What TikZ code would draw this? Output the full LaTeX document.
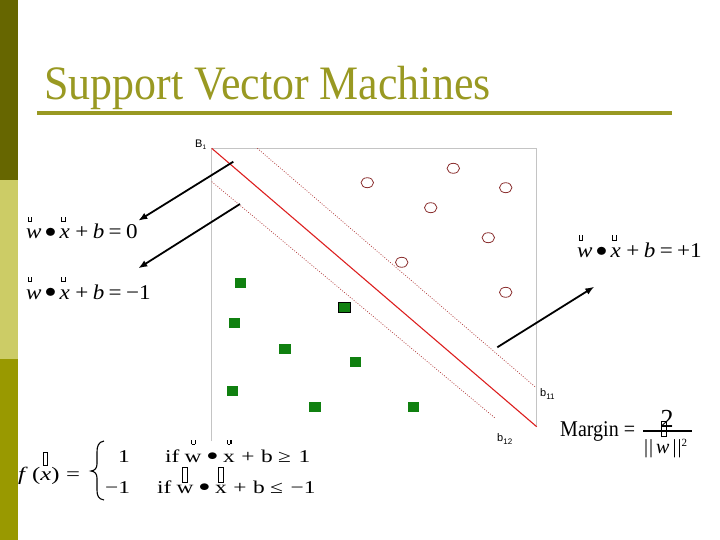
\documentclass[tikz,border=0pt]{standalone}
\usepackage{fontspec}
\setmainfont{Liberation Serif}
\newfontfamily\lsans{Liberation Sans}
\usetikzlibrary{arrows.meta,shapes.geometric}
\definecolor{barA}{HTML}{666600}
\definecolor{barB}{HTML}{CCCC66}
\definecolor{barC}{HTML}{999900}
\definecolor{titleol}{HTML}{999922}
\definecolor{redline}{HTML}{DD2020}
\definecolor{dotred}{HTML}{B03A3A}
\definecolor{circred}{HTML}{8B3030}
\definecolor{sqgreen}{HTML}{108010}
\definecolor{boxgray}{HTML}{C4C4C4}
\newcommand\umk{\rule{0.045em}{0.26em}\rule{0.12em}{0.045em}\rule{0.045em}{0.26em}}
\newcommand\uvec[2][0.8em]{\ooalign{#2\cr\kern0.06em\raisebox{#1}{\umk}\hfil\cr}}
\newcommand\uvecc[2][0.86em]{\ooalign{#2\cr\hfil\raisebox{#1}{\umk}\hfil\cr}}
\newcommand\tofu[1]{\begingroup\setlength\fboxsep{0pt}\setlength\fboxrule{0.04em}\fbox{\rule{0pt}{#1}\hspace{0.16em}}\endgroup}
\newcommand\tvec[3][0.6em]{\ooalign{#3\cr\hfil\raisebox{#1}{\tofu{#2}}\hfil\cr}}
\newcommand\bul{\raisebox{0.06em}{$\bullet$}}
\newcommand\wide[1]{\scalebox{1.3}[1]{#1}}
\newcommand\wideb[1]{\scalebox{1.1}[1]{#1}}
\tikzset{
  eqtext/.style={anchor=base west, inner sep=0pt, font=\fontsize{21}{24}\selectfont},
  rowtext/.style={anchor=base west, inner sep=0pt, font=\fontsize{18}{21}\selectfont},
  fxtext/.style={anchor=base west, inner sep=0pt, font=\fontsize{19}{22}\selectfont},
  lbl/.style={anchor=base west, inner sep=0pt, font=\lsans\fontsize{11}{12}\selectfont},
  arr/.style={line width=1.8pt, -{Latex[length=9pt,width=7pt]}},
  opt/.style={draw=circred, line width=0.8pt, ellipse, minimum width=12.5pt, minimum height=10pt, inner sep=0pt},
  gsq/.style={fill=sqgreen, rectangle, minimum width=11.5pt, minimum height=10pt, inner sep=0pt},
}
\begin{document}
\begin{tikzpicture}[x=1pt,y=-1pt]
\useasboundingbox (0,0) rectangle (720,540);
% left bar
\fill[barA] (0,0) rectangle (18,180);
\fill[barB] (0,180) rectangle (18,359);
\fill[barC] (0,359) rectangle (18,540);
% title
\node[anchor=base west, text=titleol, inner sep=0pt, font=\fontsize{48}{50}\selectfont] (title) at (44,100) {\scalebox{0.915}[1]{Support Vector Machines}};
\draw[titleol, line width=3.5pt] (37,113) -- (672,113);
% plot box
\draw[boxgray, line width=0.8pt] (211.7,441) -- (211.7,148.3) -- (536.7,148.3) -- (536.7,427);
% separating lines
\draw[redline, line width=1.1pt] (211.7,148.3) -- (536.7,426.7);
\draw[dotred, line width=0.7pt, dash pattern=on 0.9pt off 1.6pt] (257.3,148.3) -- (535,386.7);
\draw[dotred, line width=0.7pt, dash pattern=on 0.9pt off 1.6pt] (211.7,181.7) -- (495,418);
% labels
\node[lbl] (B1) at (195,147.3) {B\raisebox{-2.5pt}{\fontsize{6.5}{7}\selectfont 1}};
\node[lbl] (b11) at (540,396.7) {b\raisebox{-3pt}{\fontsize{8}{9}\selectfont 11}};
\node[lbl] (b12) at (497,441.7) {b\raisebox{-3pt}{\fontsize{8}{9}\selectfont 12}};
% circles
\node[opt] (c1) at (367.3,182.7) {};
\node[opt] (c2) at (453.3,168.3) {};
\node[opt] (c3) at (505.7,187.7) {};
\node[opt] (c4) at (430.7,207.7) {};
\node[opt] (c5) at (488.3,237.7) {};
\node[opt] (c6) at (401.7,262.3) {};
\node[opt] (c7) at (505.7,292.3) {};
% squares
\node[gsq] (s1) at (240.3,282.7) {};
\node[gsq] (s2) at (234.3,322.7) {};
\node[gsq, draw=black, line width=0.8pt] (s3) at (344.3,307.7) {};
\node[gsq] (s4) at (285,349) {};
\node[gsq] (s5) at (355.7,362.3) {};
\node[gsq] (s6) at (232.7,390.7) {};
\node[gsq] (s7) at (315,406.7) {};
\node[gsq] (s8) at (413.3,406.7) {};
% equations
\node[eqtext] (eqzero) at (26,239) {\wideb{\uvec{\textit{w}}\hspace{3pt}\bul\hspace{3pt}\uvec{\textit{x}}\hspace{5pt}+\hspace{4pt}\textit{b}\hspace{4pt}=\hspace{4pt}0}};
\node[eqtext] (eqminus) at (26,299) {\wideb{\uvec{\textit{w}}\hspace{3pt}\bul\hspace{3pt}\uvec{\textit{x}}\hspace{5pt}+\hspace{4pt}\textit{b}\hspace{4pt}=\hspace{4pt}−1}};
\node[eqtext] (eqplus) at (577,257.5) {\wideb{\uvec{\textit{w}}\hspace{3pt}\bul\hspace{3pt}\uvec{\textit{x}}\hspace{5pt}+\hspace{4pt}\textit{b}\hspace{4pt}=\hspace{4pt}+1}};
% arrows
\coordinate (a1s) at (233.3,161.7);
\coordinate (a1e) at (138.3,220.7);
\coordinate (a2s) at (240,204);
\coordinate (a2e) at (138.3,268.3);
\coordinate (a3s) at (497.3,347.3);
\coordinate (a3e) at (594.3,286.7);
\draw[arr] (a1s) -- (a1e);
\draw[arr] (a2s) -- (a2e);
\draw[arr] (a3s) -- (a3e);
% margin
\node[anchor=base west, inner sep=0pt, font=\fontsize{22.5}{24}\selectfont] (margin) at (560,436) {\scalebox{0.89}[1]{Margin =}};
\node[anchor=base, inner sep=0pt, font=\fontsize{26}{28}\selectfont] (num) at (667,427) {2};
\draw[line width=1.3pt] (643,431) -- (692,431);
\draw[line width=0.7pt] (661.7,421.7) rectangle (666,436);
\node[anchor=base west, inner sep=0pt, font=\fontsize{20}{22}\selectfont] (den) at (644,453) {|\hspace{1pt}|\hspace{3pt}\textit{w}\hspace{3pt}|\hspace{1pt}|\raisebox{7pt}{\fontsize{11}{12}\selectfont 2}};
% decision function
\node[fxtext] (fname) at (18,480) {\wide{\textit{f}}};
\node[fxtext] (farg) at (32,480) {\wide{(\textit{x})}};
\node[fxtext] (feq) at (66,480) {\wide{=}};
\draw[line width=0.7pt] (43.5,452) rectangle (47.5,465);
\draw[line width=1.1pt] (104,441) .. controls (98.5,442) and (97,446) .. (97,452) -- (97,464) .. controls (97,468) and (95,470.5) .. (91,471) .. controls (95,471.5) and (97,474) .. (97,478) -- (97,490) .. controls (97,496) and (98.5,499) .. (104,500);
\node[rowtext] (r1v) at (118,462) {\wide{1}};
\node[rowtext] (r1c) at (165,462) {\wide{if\hspace{4pt}\uvecc[0.98em]{w}\hspace{4pt}\bul\hspace{4pt}\uvecc[0.98em]{x}\hspace{5pt}+\hspace{5pt}b\hspace{4pt}≥\hspace{6pt}1}};
\node[rowtext] (r2v) at (105,493) {\wide{−1}};
\node[rowtext] (r2c) at (157,493) {\wide{if\hspace{4pt}\tvec[0.6em]{0.83em}{w}\hspace{4pt}\bul\hspace{4pt}\tvec[0.6em]{0.83em}{x}\hspace{5pt}+\hspace{5pt}b\hspace{4pt}≤\hspace{6pt}−1}};
\end{tikzpicture}
\end{document}
